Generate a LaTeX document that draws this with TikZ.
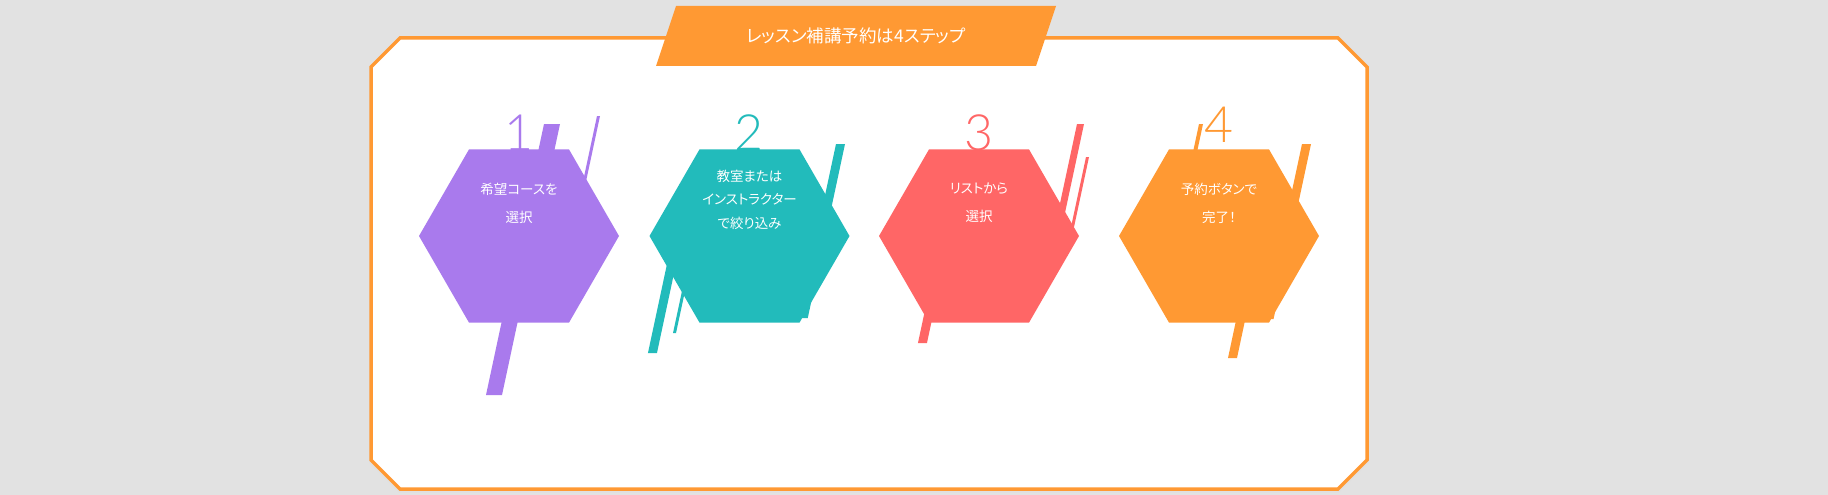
\documentclass[tikz,border=0pt]{standalone}
\usepackage{fontspec}
\setmainfont{Noto Sans CJK JP}[RawFeature=+palt]
\newfontfamily\numfont{Lato Light}
\usepackage{tikz}
\usetikzlibrary{shapes.geometric,positioning}
\definecolor{stepPurple}{RGB}{169,122,237}
\definecolor{stepTeal}{RGB}{34,187,187}
\definecolor{stepCoral}{RGB}{255,102,102}
\definecolor{stepOrange}{RGB}{255,153,51}
\definecolor{pageGray}{RGB}{226,226,226}
% slanted bar: colour, top-left x, top y, width, bottom y
\newcommand{\slantbar}[5]{%
  \fill[#1] (#2,#3) -- ({#2+#4},#3) -- ({#2+#4-0.214*(#5-#3)},#5) -- ({#2-0.214*(#5-#3)},#5) -- cycle;}

\begin{document}
\begin{tikzpicture}[x=1pt, y=-1pt,
  hexa/.style={regular polygon, regular polygon sides=6,
    minimum size=200pt, inner sep=0pt},
  stepnum/.style={inner sep=0pt, font=\numfont\fontsize{50}{50}\selectfont},
  hextext/.style={text=white, align=center, inner sep=0pt}]
  \useasboundingbox (0,0) rectangle (1828,495);
  % Background
  \fill[pageGray] (0,0) rectangle (1828,495);
  % Panel
  \draw[black!12, line width=3.5pt, shift={(0,2)}]
    (371,67) -- (400,38) -- (1338,38) -- (1367,67) -- (1367,460) -- (1338,489) -- (400,489) -- (371,460) -- cycle;
  \draw[stepOrange, fill=white, line width=3.5pt]
    (371,67) -- (400,38) -- (1338,38) -- (1367,67) -- (1367,460) -- (1338,489) -- (400,489) -- (371,460) -- cycle;
  % Title banner
  \fill[stepOrange] (656,66) -- (676,6) -- (1056,6) -- (1036,66) -- cycle;
  \node[text=white, inner sep=0pt, font=\fontsize{17.5}{17.5}\selectfont] (title) at (856,36) {レッスン補講予約は4ステップ};
  % Step numbers
  \node[stepnum, text=stepPurple] (num1) at (519,133) {1};
  \node[stepnum, text=stepTeal] (num2) at (749,133) {2};
  \node[stepnum, text=stepCoral] (num3) at (979,133) {3};
  \node[stepnum, text=stepOrange] (num4) at (1219,125) {4};
  % Bars
  \slantbar{stepPurple}{544}{124}{16}{395}
  \slantbar{stepPurple}{597}{116}{3}{250}
  \slantbar{stepTeal}{836}{144}{9}{318}
  \slantbar{stepTeal}{670}{250}{9}{353}
  \slantbar{stepTeal}{686.5}{270}{3}{333}
  \slantbar{stepCoral}{1077}{124}{7}{230}
  \slantbar{stepCoral}{1086}{157}{3}{240}
  \slantbar{stepCoral}{929.3}{290}{9}{343}
  \slantbar{stepOrange}{1199}{124}{4}{170}
  \slantbar{stepOrange}{1302}{144}{9}{319}
  \slantbar{stepOrange}{1240.4}{300}{9}{358}
  % Hexagons
  \node[hexa, fill=stepPurple] (hex1) at (519,236) {};
  \node[hexa, fill=stepTeal] (hex2) at (749.5,236) {};
  \node[hexa, fill=stepCoral] (hex3) at (979,236) {};
  \node[hexa, fill=stepOrange] (hex4) at (1219,236) {};
  % Step texts
  \node[hextext, font=\fontsize{13.5}{28}\selectfont] (txt1) at (519,203) {希望コースを\\選択};
  \node[hextext, font=\fontsize{13.5}{23.5}\selectfont] (txt2) at (749.5,199.5) {教室または\\インストラクター\\で絞り込み};
  \node[hextext, font=\fontsize{13.5}{28}\selectfont] (txt3) at (979,203) {リストから\\選択};
  \node[hextext, font=\fontsize{13.5}{28}\selectfont] (txt4) at (1219,203) {予約ボタンで\\完了！};
\end{tikzpicture}
\end{document}
